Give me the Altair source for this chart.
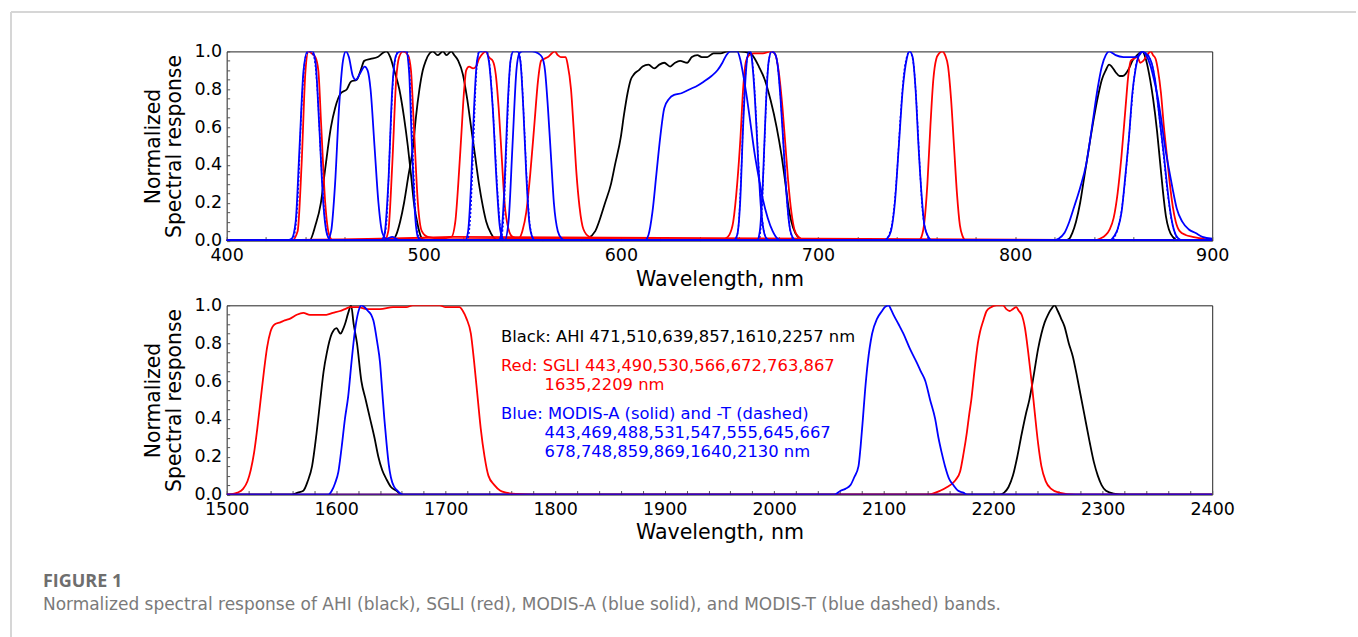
import altair as alt
import pandas as pd

# ---------------------------------------------------------------
# Relative spectral response curves: (wavelength nm, response)
# ---------------------------------------------------------------

# AHI (Himawari-8) - black
AHI_471 = [(440, 0), (442, 0.0), (445, 0.08), (447.8, 0.2), (450, 0.38), (452.9, 0.6), (455, 0.7),
           (458, 0.78), (461, 0.8), (463, 0.84), (466, 0.85), (468, 0.9), (469.8, 0.95), (473, 0.96),
           (476.6, 0.97), (479, 0.99), (481, 1.0), (483, 0.97), (485, 0.9), (487.6, 0.8), (490, 0.65),
           (491.9, 0.5), (493.5, 0.35), (495, 0.2), (497, 0.08), (498.6, 0.02), (500.5, 0)]
AHI_510 = [(484, 0), (486, 0.03), (488, 0.1), (490, 0.2), (492, 0.33), (494.6, 0.5), (496, 0.65),
           (497.8, 0.8), (499.5, 0.9), (501, 0.95), (503, 0.99), (504.6, 1.0), (507, 0.98), (509.7, 1.0),
           (511.5, 0.98), (513.9, 1.0), (515.5, 0.98), (517.5, 0.95), (519.8, 0.88), (522, 0.75),
           (524, 0.6), (526, 0.45), (528, 0.3), (530, 0.18), (531.7, 0.1), (534, 0.04), (536, 0.01), (538, 0)]
AHI_639 = [(580, 0), (583, 0.01), (587, 0.05), (592, 0.2), (595, 0.3), (597, 0.4), (600, 0.55),
           (601.5, 0.66), (603.4, 0.78), (605, 0.85), (606.7, 0.88), (609, 0.9), (611, 0.92), (614, 0.93),
           (617, 0.91), (619.5, 0.93), (622, 0.94), (625, 0.92), (627.5, 0.94), (630, 0.95), (633.7, 0.94),
           (636, 0.97), (638.8, 0.98), (641, 0.97), (643.8, 0.97), (647, 0.99), (650.6, 0.99),
           (654, 1.0), (660, 1.0), (665.8, 0.99), (668, 0.96), (670, 0.92), (673, 0.85), (676, 0.74),
           (679, 0.6), (681.5, 0.45), (683.5, 0.3), (685, 0.18), (686.5, 0.1), (688.5, 0.04), (691, 0.01),
           (693, 0)]
AHI_857 = [(825, 0), (827.5, 0.01), (829, 0.04), (830.9, 0.1), (833, 0.2), (835, 0.33), (837.6, 0.5),
           (840, 0.65), (842, 0.76), (844, 0.85), (846, 0.9), (847.7, 0.93), (849, 0.92), (851, 0.89),
           (853, 0.87), (854.5, 0.87), (856, 0.88), (857.8, 0.91), (859.5, 0.95), (861, 0.97), (863, 0.99),
           (864.6, 1.0), (866, 0.97), (868, 0.88), (870, 0.75), (872, 0.58), (873.5, 0.42), (875, 0.26),
           (876.5, 0.13), (878, 0.06), (880, 0.02), (883, 0)]
AHI_1610 = [(1560, 0), (1565, 0.01), (1570, 0.02), (1574, 0.07), (1578, 0.15), (1582, 0.32),
            (1585.5, 0.5), (1588.5, 0.65), (1591.5, 0.75), (1596, 0.85), (1600.5, 0.88), (1602.5, 0.86),
            (1604, 0.85), (1606, 0.87), (1608, 0.9), (1611, 0.96), (1613.6, 1.0), (1616, 0.9),
            (1619, 0.8), (1623, 0.6), (1627, 0.5), (1631, 0.4), (1635, 0.3), (1638.5, 0.2), (1642, 0.13),
            (1646, 0.08), (1650, 0.04), (1655, 0.02), (1660, 0)]
AHI_2257 = [(2206, 0), (2210, 0.01), (2214, 0.04), (2218, 0.1), (2222, 0.2), (2226, 0.32), (2230, 0.43),
            (2233, 0.5), (2237, 0.63), (2241, 0.77), (2244, 0.85), (2247, 0.91), (2250, 0.95),
            (2253, 0.98), (2256, 1.0), (2259, 0.97), (2262, 0.93), (2265, 0.89), (2269, 0.8),
            (2272.7, 0.73), (2276, 0.64), (2279, 0.55), (2283, 0.43), (2288, 0.28), (2292, 0.17),
            (2295.5, 0.1), (2299, 0.05), (2303, 0.02), (2310, 0.005), (2320, 0)]

# SGLI (GCOM-C) - red
SGLI_443 = [(433, 0), (436, 0.05), (438, 0.4), (440, 0.9), (441.5, 1.0), (443, 0.99), (445, 0.97),
            (446.5, 0.9), (448, 0.6), (450, 0.2), (452, 0.03), (454, 0)]
SGLI_490 = [(480, 0), (482, 0.05), (484, 0.4), (486, 0.85), (487.5, 0.97), (489.5, 1.0), (492, 0.98),
            (493.5, 0.9), (495, 0.6), (497, 0.2), (499, 0.05), (502, 0.02), (510, 0.01), (514, 0.02)]
SGLI_530 = [(514, 0.02), (516, 0.1), (517.5, 0.3), (519, 0.55), (520.5, 0.8), (521.5, 0.9), (523, 0.92),
            (525, 0.91), (526.5, 0.92), (528, 0.96), (530, 0.99), (531.5, 1.0), (533, 0.97), (535, 0.95),
            (536.5, 0.88), (538, 0.7), (539.5, 0.45), (541, 0.2), (543, 0.06), (545, 0.02), (548, 0.01)]
SGLI_566 = [(548, 0.01), (550, 0.05), (552, 0.15), (554, 0.35), (556, 0.6), (558, 0.85), (559.5, 0.95),
            (561, 0.96), (563, 0.97), (565, 0.99), (566.5, 1.0), (568, 0.98), (569.5, 0.97), (572, 0.97),
            (573, 0.93), (574.7, 0.8), (576, 0.6), (577.5, 0.35), (579, 0.18), (581, 0.06), (584, 0.02),
            (588, 0.01), (592, 0)]
SGLI_672 = [(650, 0), (653, 0.01), (655, 0.03), (657, 0.1), (659, 0.3), (660.7, 0.55), (662, 0.8),
            (663.5, 0.95), (665, 0.98), (667.5, 0.99), (672, 0.99), (676, 1.0), (678, 0.99), (680, 0.9),
            (682, 0.7), (683.5, 0.5), (685, 0.3), (686.5, 0.15), (688, 0.06), (690, 0.02), (694, 0)]
SGLI_763 = [(751, 0), (752.5, 0.02), (754, 0.1), (755.5, 0.3), (757, 0.6), (758.5, 0.85), (760, 0.96),
            (761.5, 0.99), (763, 1.0), (764.5, 0.98), (766, 0.92), (767.5, 0.75), (769, 0.5),
            (770.5, 0.25), (772, 0.08), (773.5, 0.02), (775, 0)]
SGLI_867 = [(840, 0), (843, 0.01), (846, 0.03), (848, 0.06), (850, 0.12), (852, 0.25), (854, 0.45),
            (856, 0.7), (857.5, 0.88), (858.7, 0.95), (860, 0.96), (862, 0.97), (863.5, 0.94), (865, 0.95),
            (867, 0.98), (868.8, 1.0), (870, 0.98), (871.3, 0.96), (872.5, 0.9), (874, 0.78), (875.5, 0.6),
            (877, 0.45), (878.5, 0.3), (880, 0.18), (881.5, 0.1), (883.5, 0.05), (886.5, 0.03),
            (890, 0.02), (895, 0.01), (900, 0)]
SGLI_1635 = [(1500, 0), (1505, 0.002), (1510, 0.01), (1515, 0.03), (1519, 0.07), (1522, 0.13),
             (1525, 0.22), (1528, 0.35), (1531, 0.5), (1534, 0.65), (1537, 0.78), (1540, 0.86),
             (1544, 0.9), (1549, 0.91), (1553, 0.92), (1558, 0.93), (1564, 0.95), (1570, 0.96),
             (1576, 0.95), (1583, 0.95), (1591, 0.95), (1597, 0.96), (1603.6, 0.97), (1608, 0.98),
             (1612.7, 0.99), (1620, 0.99), (1628, 0.98), (1640, 0.98), (1652, 0.99), (1664, 0.99),
             (1670, 1.0), (1680, 1.0), (1694.5, 1.0), (1700, 0.99), (1712.7, 0.99), (1715.7, 0.97),
             (1719, 0.93), (1723, 0.85), (1726, 0.7), (1729.4, 0.5), (1732, 0.35), (1735.5, 0.2),
             (1739, 0.1), (1744.5, 0.05), (1750, 0.02), (1755, 0.01), (1765, 0.003), (1780, 0)]
SGLI_2209 = [(2140, 0), (2151.5, 0.02), (2158, 0.04), (2163, 0.06), (2166, 0.08), (2169.7, 0.12),
             (2173, 0.22), (2176, 0.33), (2178, 0.42), (2180, 0.5), (2183, 0.66), (2186, 0.8),
             (2188, 0.86), (2191, 0.92), (2194, 0.97), (2198, 0.99), (2203, 1.0), (2209, 1.0),
             (2212, 0.98), (2215, 0.97), (2218, 0.98), (2221, 0.99), (2223.5, 0.97), (2226, 0.95),
             (2229, 0.88), (2232, 0.75), (2235, 0.6), (2238, 0.43), (2241, 0.27), (2244, 0.15),
             (2248, 0.07), (2253, 0.03), (2260, 0.01), (2275, 0)]

# MODIS-Aqua - blue solid
MODA_443 = [(430, 0), (433, 0.01), (435, 0.1), (437, 0.5), (439, 0.9), (441, 1.0), (443.5, 1.0),
            (445, 0.95), (447, 0.6), (449, 0.2), (451, 0.03), (453, 0)]
MODA_469 = [(451, 0), (453, 0.05), (455, 0.3), (457, 0.7), (459, 0.95), (460.5, 1.0), (462, 0.97),
            (464, 0.87), (465.5, 0.85), (467.5, 0.88), (470, 0.92), (471.5, 0.9), (473, 0.8), (475, 0.5),
            (477, 0.2), (479, 0.04), (481, 0.01), (484, 0.02), (486, 0.01), (488, 0)]
MODA_488 = [(478, 0), (480, 0.03), (482, 0.3), (484, 0.8), (486, 0.98), (488, 1.0), (491, 1.0),
            (492.5, 0.9), (494, 0.5), (495.5, 0.15), (497, 0.02), (499, 0)]
MODA_531 = [(521, 0), (522.5, 0.05), (524, 0.3), (525.5, 0.7), (527, 0.95), (528.5, 1.0), (531.5, 1.0),
            (533, 0.95), (535, 0.7), (537, 0.3), (538.5, 0.08), (540, 0.01), (541, 0)]
MODA_547 = [(538, 0), (539.5, 0.05), (541, 0.3), (542.5, 0.7), (544, 0.95), (545.5, 1.0), (547.5, 1.0),
            (549, 0.95), (550.5, 0.7), (552, 0.35), (553.5, 0.1), (555, 0.02), (556.5, 0)]
MODA_555 = [(541, 0), (543, 0.1), (545, 0.5), (547, 0.9), (548.5, 0.99), (550, 1.0), (555, 1.0),
            (558, 0.99), (560, 0.97), (561.5, 0.9), (563, 0.7), (564.5, 0.45), (566, 0.2), (568, 0.05),
            (570, 0.01), (572, 0)]
MODA_645 = [(612, 0), (614, 0.03), (616, 0.15), (618, 0.35), (620, 0.55), (622, 0.7), (624.5, 0.75),
            (627, 0.77), (631, 0.78), (635, 0.8), (639, 0.82), (642, 0.84), (646, 0.87), (649, 0.9),
            (651.5, 0.94), (653.5, 0.98), (655.6, 1.0), (659, 1.0), (660.5, 0.96), (662, 0.88),
            (664, 0.75), (666, 0.6), (668, 0.45), (670, 0.33), (672, 0.22), (674.5, 0.12), (677, 0.05),
            (679.5, 0.01), (682, 0)]
MODA_667 = [(657, 0), (659, 0.03), (660.5, 0.2), (662, 0.6), (663.5, 0.9), (665, 1.0), (666, 0.99),
            (667, 0.9), (668, 0.75), (669, 0.55), (670, 0.35), (671, 0.18), (672.5, 0.05), (674, 0.01),
            (676, 0)]
MODA_678 = [(669, 0), (670.5, 0.05), (672, 0.3), (673.5, 0.7), (675, 0.95), (676.5, 1.0), (678, 0.99),
            (679.5, 0.93), (681, 0.75), (682.5, 0.5), (684, 0.25), (685.5, 0.08), (687, 0.02), (689, 0)]
MODA_748 = [(733, 0), (735, 0.01), (737, 0.05), (739, 0.2), (741, 0.5), (743, 0.8), (745, 0.96),
            (746.5, 1.0), (748, 0.97), (749.5, 0.8), (751, 0.5), (752.5, 0.25), (754, 0.08), (756, 0.02),
            (758, 0)]
MODA_859 = [(819, 0), (822, 0.01), (825, 0.04), (827.5, 0.1), (830, 0.18), (833, 0.28), (836, 0.4),
            (839, 0.6), (841.8, 0.8), (844, 0.92), (846, 0.98), (847.7, 1.0), (849.5, 0.99), (851, 0.98),
            (855, 0.97), (858, 0.97), (861, 0.97), (863, 0.98), (864.6, 1.0), (866.5, 0.98),
            (868.5, 0.93), (870.5, 0.85), (872.5, 0.75), (874, 0.65), (876, 0.5), (878, 0.38),
            (879.8, 0.28), (882, 0.17), (884.8, 0.1), (888, 0.06), (891.6, 0.04), (895, 0.02), (900, 0.01)]
MODA_869 = [(848, 0), (850, 0.02), (852, 0.06), (854, 0.15), (856, 0.35), (857.8, 0.55), (859.5, 0.78),
            (861, 0.9), (862.5, 0.97), (864.6, 1.0), (866, 0.99), (868, 0.97), (869.5, 0.93), (871, 0.85),
            (872.5, 0.72), (874, 0.58), (875.5, 0.45), (877, 0.3), (878.5, 0.17), (880, 0.08),
            (881.5, 0.03), (883, 0.01), (885, 0)]
MODA_1640 = [(1593, 0), (1596, 0.02), (1599, 0.06), (1602, 0.12), (1605, 0.25), (1608, 0.4),
             (1611, 0.52), (1614, 0.7), (1617, 0.86), (1620, 0.96), (1623, 1.0), (1626, 0.99),
             (1629, 0.97), (1632, 0.95), (1634, 0.92), (1637.6, 0.8), (1640, 0.7), (1642, 0.55),
             (1644, 0.4), (1646, 0.27), (1648, 0.16), (1650, 0.09), (1653, 0.04), (1656, 0.02), (1661, 0)]
MODA_2130 = [(2055, 0), (2060.6, 0.02), (2065, 0.03), (2069.7, 0.05), (2073, 0.09), (2077, 0.15),
             (2079, 0.26), (2081, 0.4), (2083, 0.55), (2085.5, 0.7), (2089.4, 0.85), (2094, 0.93),
             (2098.5, 0.97), (2101, 0.99), (2104.5, 1.0), (2106.5, 0.98), (2109, 0.95), (2113.6, 0.9),
             (2118, 0.85), (2124, 0.77), (2130, 0.7), (2134, 0.65), (2138, 0.6), (2142.4, 0.5),
             (2147, 0.4), (2150, 0.3), (2153, 0.22), (2156, 0.15), (2160, 0.08), (2163.6, 0.05),
             (2168, 0.02), (2172.7, 0.01), (2176, 0)]

# MODIS-Terra - blue dashed
MODT_443 = [(431, 0), (434, 0.02), (436, 0.2), (438, 0.7), (440, 0.97), (442, 1.0), (444, 0.98),
            (446, 0.8), (448, 0.4), (450, 0.1), (452, 0.01), (454, 0)]
MODT_488 = [(479, 0), (481, 0.08), (483, 0.55), (485, 0.92), (487, 1.0), (491.5, 1.0), (493, 0.85),
            (494.5, 0.45), (496, 0.12), (497.5, 0.02), (499.5, 0)]
MODT_531 = [(522, 0), (523.5, 0.1), (525, 0.45), (526.5, 0.85), (528, 1.0), (532, 1.0), (533.5, 0.92),
            (535.5, 0.62), (537.5, 0.25), (539, 0.06), (541, 0)]
MODT_547 = [(539, 0), (540.5, 0.12), (542, 0.5), (543.5, 0.88), (545, 1.0), (548, 1.0), (549.5, 0.9),
            (551, 0.6), (552.5, 0.28), (554, 0.07), (556.5, 0)]
MODT_667 = [(658, 0), (659.5, 0.06), (661, 0.35), (662.5, 0.75), (664, 0.96), (665.5, 1.0), (667, 0.92),
            (668.5, 0.68), (670, 0.38), (671.5, 0.14), (673, 0.03), (675, 0)]
MODT_678 = [(670, 0), (671.5, 0.15), (673, 0.55), (674.5, 0.9), (676.5, 1.0), (678.5, 0.98), (680, 0.88),
            (681.5, 0.68), (683, 0.42), (684.5, 0.18), (686, 0.05), (688, 0)]
MODT_748 = [(734, 0), (736, 0.03), (738, 0.12), (740, 0.35), (742, 0.68), (744, 0.92), (746.5, 1.0),
            (748.5, 0.93), (750, 0.72), (751.5, 0.42), (753, 0.16), (755, 0.04), (757, 0)]
MODT_869 = [(849, 0), (851, 0.03), (853, 0.1), (855, 0.24), (857, 0.45), (859, 0.7), (860.5, 0.87),
            (862, 0.96), (864, 1.0), (866.5, 0.99), (868.5, 0.96), (870.5, 0.88), (872, 0.76),
            (873.5, 0.62), (875, 0.48), (876.5, 0.33), (878, 0.2), (879.5, 0.1), (881, 0.04), (883, 0)]

TOP_BANDS = {
    "AHI": [AHI_471, AHI_510, AHI_639, AHI_857],
    "SGLI": [SGLI_443, SGLI_490, SGLI_530, SGLI_566, SGLI_672, SGLI_763, SGLI_867],
    "MODIS-A": [MODA_443, MODA_469, MODA_488, MODA_531, MODA_547, MODA_555, MODA_645, MODA_667,
                MODA_678, MODA_748, MODA_859, MODA_869],
    "MODIS-T": [MODT_443, MODT_488, MODT_531, MODT_547, MODT_667, MODT_678, MODT_748, MODT_869],
}
BOTTOM_BANDS = {
    "AHI": [AHI_1610, AHI_2257],
    "SGLI": [SGLI_1635, SGLI_2209],
    "MODIS-A": [MODA_1640, MODA_2130],
}

TOP_TICKS = [400, 500, 600, 700, 800, 900]
BOTTOM_TICKS = [1500, 1600, 1700, 1800, 1900, 2000, 2100, 2200, 2300, 2400]
Y_TICKS = [0.0, 0.2, 0.4, 0.6, 0.8, 1.0]

NOTE_LINES = [
    ("Black: AHI 471,510,639,857,1610,2257 nm", "#000000", 0),
    ("Red: SGLI 443,490,530,566,672,763,867", "#ff0000", 0),
    ("1635,2209 nm", "#ff0000", 1),
    ("Blue: MODIS-A (solid) and -T (dashed)", "#0000ff", 0),
    ("443,469,488,531,547,555,645,667", "#0000ff", 1),
    ("678,748,859,869,1640,2130 nm", "#0000ff", 1),
]
CAPTION_HEAD = "FIGURE 1"
CAPTION_TEXT = ("Normalized spectral response of AHI (black), SGLI (red), MODIS-A (blue solid), "
                "and MODIS-T (blue dashed) bands.")

STYLES = [
    ("AHI", "#000000", None),
    ("SGLI", "#ff0000", None),
    ("MODIS-A", "#0000ff", None),
    ("MODIS-T", "#0000ff", [2, 2]),
]

W, H = 987, 189.5
FONT = "DejaVu Sans"


def to_frame(bands, lo, hi):
    rows = []
    for inst, curves in bands.items():
        for k, pts in enumerate(curves):
            pts = sorted(pts)
            # responses are zero outside each band over the plotted range
            if pts[0][0] > lo:
                pts = [(lo, 0.0)] + pts
            if pts[-1][0] < hi:
                pts = pts + [(hi, 0.0)]
            for wl, r in pts:
                rows.append({"inst": inst, "band": f"{inst}-{k}", "wl": wl, "r": r})
    return pd.DataFrame(rows)


def panel(bands, lo, hi, ticks, minor_step, extra_layers=()):
    df = to_frame(bands, lo, hi)
    xs = alt.Scale(domain=[lo, hi], nice=False, zero=False)
    ys = alt.Scale(domain=[0, 1], nice=False, zero=False)

    main_x = alt.Axis(values=ticks, format="d", title="Wavelength, nm", ticks=False, tickSize=0,
                      domain=False, grid=False, labelPadding=6, titlePadding=5, labelFontSize=17.5,
                      titleFontSize=20.6, labelFont=FONT, titleFont=FONT, labelColor="#000",
                      titleColor="#000", titleFontWeight="normal", labelFlush=False,
                      labelOverlap=False)
    main_y = alt.Axis(values=Y_TICKS, format=".1f", title=["Normalized", "Spectral response"],
                      ticks=False, tickSize=0, domain=False, grid=False, labelPadding=5,
                      titlePadding=9, titleLineHeight=21, labelFontSize=17.5, titleFontSize=20.4,
                      labelFont=FONT, titleFont=FONT, labelColor="#000", titleColor="#000",
                      titleFontWeight="normal", labelFlush=False, labelOverlap=False)
    # inward-pointing minor ticks along the bottom and left edges
    in_x = alt.Axis(orient="top", offset=-H, values=list(range(lo, hi + 1, minor_step)),
                    labels=False, ticks=True, tickSize=4, tickColor="#555", tickWidth=1,
                    domain=False, grid=False, title=None)
    in_y = alt.Axis(orient="right", offset=-W, values=[round(i * 0.05, 2) for i in range(21)],
                    labels=False, ticks=True, tickSize=3, tickColor="#555", tickWidth=1,
                    domain=False, grid=False, title=None)

    layers = []
    present = [s for s in STYLES if s[0] in bands]
    for i, (inst, color, dash) in enumerate(present):
        if i == 0:
            ax_x, ax_y = main_x, main_y
        elif i == 1:
            ax_x, ax_y = in_x, in_y
        else:
            ax_x, ax_y = None, None
        mk = dict(color=color, strokeWidth=1.8, interpolate="monotone", clip=True)
        if dash:
            mk["strokeDash"] = dash
            mk["strokeWidth"] = 1.4
        layers.append(
            alt.Chart(df).transform_filter(alt.datum.inst == inst).mark_line(**mk).encode(
                x=alt.X("wl:Q", scale=xs, axis=ax_x),
                y=alt.Y("r:Q", scale=ys, axis=ax_y),
                detail="band:N",
            )
        )
    return alt.layer(*layers, *extra_layers).resolve_axis(x="independent", y="independent").properties(
        width=W, height=H)


one = pd.DataFrame({"k": [0]})

# light page frame (top and left rules)
frame_top = alt.Chart(one).mark_rule(color="#d6d6d6", strokeWidth=2).encode(
    x=alt.value(-216), x2=alt.value(1131), y=alt.value(-39.5))
frame_left = alt.Chart(one).mark_rule(color="#d6d6d6", strokeWidth=2).encode(
    x=alt.value(-216), y=alt.value(-39.5), y2=alt.value(586.5))

# legend-style notes in the lower panel
note_y = [31.4, 61.2, 79.9, 108.7, 127.9, 146.5]
note_layers = []
for (txt, col, indent), yy in zip(NOTE_LINES, note_y):
    note_layers.append(
        alt.Chart(one).mark_text(text=txt, color=col, font=FONT, fontSize=16.4, align="left",
                                 baseline="middle").encode(
            x=alt.value(318.3 if indent else 274.7), y=alt.value(yy))
    )

caption = [
    alt.Chart(one).mark_text(text=CAPTION_HEAD, color="#6e6e6e", font="Open Sans", fontSize=18,
                             fontWeight="bold", align="left", baseline="middle").encode(
        x=alt.value(-184), y=alt.value(276.7)),
    alt.Chart(one).mark_text(text=CAPTION_TEXT, color="#7a7a7a", font=FONT, fontSize=17,
                             align="left", baseline="middle").encode(
        x=alt.value(-184), y=alt.value(299.7)),
]

top = panel(TOP_BANDS, 400, 900, TOP_TICKS, 20, extra_layers=[frame_top, frame_left])
bottom = panel(BOTTOM_BANDS, 1500, 2400, BOTTOM_TICKS, 20, extra_layers=note_layers + caption)

chart = alt.vconcat(top, bottom, spacing=64.3, bounds="flush").configure_view(
    stroke="#222", strokeWidth=1
).properties(
    padding={"left": 9, "top": 10, "right": 0, "bottom": 0},
    background="white",
)

chart.save("out.html", embed_options={"renderer": "svg", "actions": False})
